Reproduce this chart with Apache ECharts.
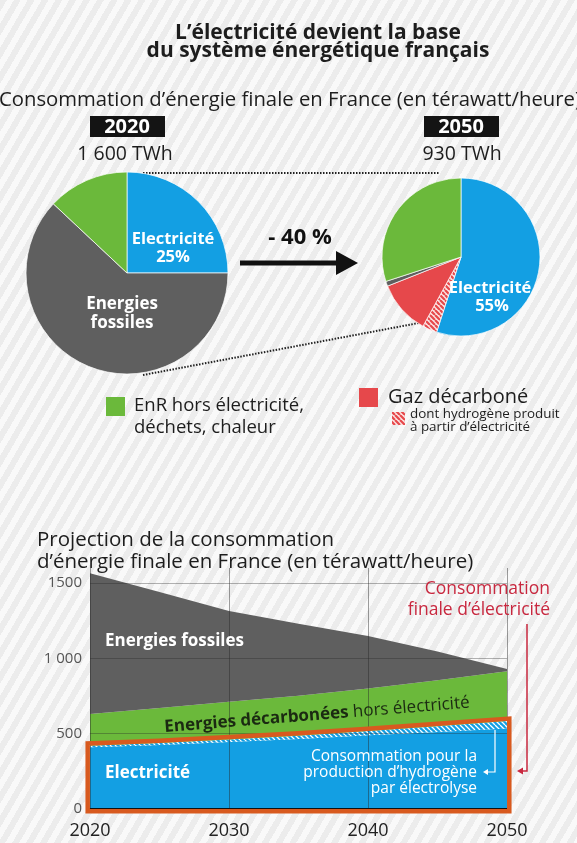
<!DOCTYPE html>
<html>
<head>
<meta charset="utf-8">
<script src="https://cdn.jsdelivr.net/npm/echarts@6/dist/echarts.min.js"></script>
<style>
  html, body { margin: 0; padding: 0; }
  body {
    width: 577px; height: 843px; overflow: hidden;
    background: repeating-linear-gradient(120deg, #ececec 0px, #ececec 6px, #f9f9f9 6px, #f9f9f9 12px);
  }
  #chart { width: 577px; height: 843px; }
</style>
</head>
<body>
<div id="chart"></div>
<script>
// ---------------- data ----------------
const pieCategories2020 = ['Electricité', 'Energies fossiles', 'EnR hors électricité, déchets, chaleur'];
const pie2020 = [25, 62, 13];
const pieCategories2050 = ['Electricité', 'Hydrogène produit à partir d\u2019électricité', 'Gaz décarboné', 'Energies fossiles', 'EnR hors électricité, déchets, chaleur'];
const pie2050 = [55, 3, 11, 1, 30];

const years = ['2020', '2025', '2030', '2035', '2040', '2045', '2050'];
const electricite = [410, 425, 445, 465, 490, 512, 535];
const hydrogene = [10, 13, 17, 22, 28, 38, 50];
const decarbonees = [210, 232, 250, 265, 282, 305, 330];
const fossiles = [935, 770, 603, 478, 348, 190, 15];

const xTickLabels = ['2020', '2030', '2040', '2050'];
const yTickValues = [0, 500, 1000, 1500];
const yTickLabels = ['0', '500', '1 000', '1500'];

// ---------------- styles ----------------
const FONT = '"Open Sans", "Noto Sans", sans-serif';
const C_BLUE = '#139fe3';
const C_GREEN = '#6bb93b';
const C_GRAY = '#5f5f5f';
const C_RED = '#e6484b';
const C_ORANGE = '#d85a1f';
const C_DARKRED = '#c8283f';

function stripes(bg, fg, size, width) {
  const c = document.createElement('canvas');
  c.width = size; c.height = size;
  const g = c.getContext('2d');
  g.fillStyle = bg; g.fillRect(0, 0, size, size);
  g.strokeStyle = fg; g.lineWidth = width;
  g.beginPath();
  for (let k = -1; k <= 1; k++) {
    g.moveTo(k * size, 0); g.lineTo(k * size + size, size);
  }
  g.stroke();
  return { image: c, repeat: 'repeat' };
}
const redHatch = stripes('#fbe3e3', '#e6484b', 5, 2.2);
const blueHatch = stripes(C_BLUE, '#ffffff', 5, 1.3);

// top of the electricity block (incl. hydrogen) for the orange outline
const elecTop = electricite.map((v, i) => v + hydrogene[i]);

function txt(text, x, y, font, fill, align, extra) {
  return Object.assign({
    type: 'text', x: x, y: y, z: 100, silent: true,
    style: { text: text, font: font, fill: fill, align: align || 'left', verticalAlign: 'middle', textAlign: align || 'left', textVerticalAlign: 'middle' }
  }, extra || {});
}

const graphics = [
  // titles
  txt('L\u2019électricité devient la base', 318, 33, 'bold 21px ' + FONT, '#1d1d1d', 'center'),
  txt('du système énergétique français', 318, 51, 'bold 21px ' + FONT, '#1d1d1d', 'center'),
  txt('Consommation d\u2019énergie finale en France (en térawatt/heure)', -1, 100, '20.3px ' + FONT, '#1d1d1d', 'left'),
  // year boxes
  { type: 'rect', shape: { x: 90, y: 116, width: 75, height: 21 }, style: { fill: '#141414' }, z: 90, silent: true },
  txt('2020', 127, 127, 'bold 20px ' + FONT, '#ffffff', 'center'),
  txt('1 600 TWh', 125, 154, '19.5px ' + FONT, '#1d1d1d', 'center'),
  { type: 'rect', shape: { x: 424, y: 116, width: 75, height: 21 }, style: { fill: '#141414' }, z: 90, silent: true },
  txt('2050', 461, 127, 'bold 20px ' + FONT, '#ffffff', 'center'),
  txt('930 TWh', 462, 154, '19.5px ' + FONT, '#1d1d1d', 'center'),
  // dotted connectors
  { type: 'line', shape: { x1: 143, y1: 173, x2: 440, y2: 173 }, style: { stroke: '#222', lineWidth: 2, lineDash: [1.5, 1.5] }, z: 1, silent: true },
  { type: 'line', shape: { x1: 143, y1: 375, x2: 440, y2: 319 }, style: { stroke: '#222', lineWidth: 2, lineDash: [1.5, 1.5] }, z: 1, silent: true },
  // big arrow
  { type: 'line', shape: { x1: 240, y1: 263, x2: 340, y2: 263 }, style: { stroke: '#111', lineWidth: 5 }, z: 90, silent: true },
  { type: 'polygon', shape: { points: [[336, 251], [358, 263], [336, 275]] }, style: { fill: '#111' }, z: 90, silent: true },
  txt('- 40 %', 300, 238, 'bold 22px ' + FONT, '#111', 'center'),
  // pie labels
  txt('Electricité', 173, 239, 'bold 16.5px ' + FONT, '#ffffff', 'center'),
  txt('25%', 173, 257, 'bold 16.5px ' + FONT, '#ffffff', 'center'),
  txt('Energies', 122, 304, 'bold 17px ' + FONT, '#ffffff', 'center'),
  txt('fossiles', 122, 323, 'bold 17px ' + FONT, '#ffffff', 'center'),
  txt('Electricité', 490, 288, 'bold 16.5px ' + FONT, '#ffffff', 'center'),
  txt('55%', 492, 306, 'bold 16.5px ' + FONT, '#ffffff', 'center'),
  // legend
  { type: 'rect', shape: { x: 106, y: 397, width: 19, height: 19 }, style: { fill: C_GREEN }, z: 90, silent: true },
  txt('EnR hors électricité,', 134, 406, '18.5px ' + FONT, '#1d1d1d', 'left'),
  txt('déchets, chaleur', 134, 428, '18.5px ' + FONT, '#1d1d1d', 'left'),
  { type: 'rect', shape: { x: 359, y: 388, width: 19, height: 19 }, style: { fill: C_RED }, z: 90, silent: true },
  txt('Gaz décarboné', 388, 397, '20px ' + FONT, '#1d1d1d', 'left'),
  { type: 'rect', shape: { x: 392, y: 412, width: 13, height: 13 }, style: { fill: redHatch }, z: 90, silent: true },
  txt('dont hydrogène produit', 410, 414, '13.4px ' + FONT, '#1d1d1d', 'left'),
  txt('à partir d\u2019électricité', 410, 427, '13.4px ' + FONT, '#1d1d1d', 'left'),
  // bottom title
  txt('Projection de la consommation', 37, 540, '20.5px ' + FONT, '#1d1d1d', 'left'),
  txt('d\u2019énergie finale en France (en térawatt/heure)', 37, 562, '20.5px ' + FONT, '#1d1d1d', 'left'),
  // in-chart labels
  txt('Energies fossiles', 105, 641, 'bold 17px ' + FONT, '#ffffff', 'left'),
  txt('Electricité', 105, 773, 'bold 17px ' + FONT, '#ffffff', 'left'),
  {
    type: 'text', x: 317, y: 715, z: 100, silent: true, rotation: 0.08,
    style: {
      text: '{b|Energies décarbonées} hors électricité',
      font: '17px ' + FONT, fill: '#1b2a12',
      align: 'center', verticalAlign: 'middle', textAlign: 'center', textVerticalAlign: 'middle',
      rich: { b: { fontWeight: 'bold', fontSize: 17, fontFamily: FONT, fill: '#1b2a12' } }
    }
  },
  txt('Consommation pour la', 477, 757, '15.5px ' + FONT, '#ffffff', 'right'),
  txt('production d\u2019hydrogène', 477, 773, '15.5px ' + FONT, '#ffffff', 'right'),
  txt('par électrolyse', 477, 789, '15.5px ' + FONT, '#ffffff', 'right'),
  { type: 'polyline', shape: { points: [[495, 730], [495, 772], [487, 772]] }, style: { stroke: '#ffffff', lineWidth: 1.2, fill: null }, z: 100, silent: true },
  { type: 'polygon', shape: { points: [[483, 772], [488, 769], [488, 775]] }, style: { fill: '#ffffff' }, z: 100, silent: true },
  // red annotation
  txt('Consommation', 550, 589, '17.5px ' + FONT, C_DARKRED, 'right'),
  txt('finale d\u2019électricité', 550, 610, '17.5px ' + FONT, C_DARKRED, 'right'),
  { type: 'polyline', shape: { points: [[527, 624], [527, 771], [521, 771]] }, style: { stroke: C_DARKRED, lineWidth: 1.5, fill: null }, z: 100, silent: true },
  { type: 'polygon', shape: { points: [[517, 771], [523, 767.5], [523, 774.5]] }, style: { fill: C_DARKRED }, z: 100, silent: true }
];

const areaSeries = (name, data, color) => ({
  name: name, type: 'line', stack: 'conso', data: data,
  symbol: 'none', showSymbol: false, smooth: false,
  lineStyle: { width: 0 }, areaStyle: { color: color, opacity: 1 }, z: 2, silent: true
});

const option = {
  backgroundColor: 'transparent',
  animation: false,
  textStyle: { fontFamily: FONT },
  grid: { left: 90, right: 70, top: 568, bottom: 34, containLabel: false },
  xAxis: {
    type: 'category', data: years, boundaryGap: false, z: 5,
    axisLine: { show: true, lineStyle: { color: '#111', width: 2 } },
    axisTick: { show: false },
    axisLabel: {
      interval: 1, fontSize: 18, color: '#222', margin: 13, fontFamily: FONT,
      formatter: v => (xTickLabels.indexOf(v) >= 0 ? v : '')
    },
    splitLine: { show: true, interval: 1, lineStyle: { color: 'rgba(40,40,40,0.45)', width: 1 } }
  },
  yAxis: {
    type: 'value', min: 0, max: 1600, interval: 500, z: 5,
    axisLine: { show: false }, axisTick: { show: false },
    axisLabel: {
      fontSize: 15, color: '#555', margin: 8, fontFamily: FONT, showMaxLabel: false,
      formatter: v => { const i = yTickValues.indexOf(v); return i >= 0 ? yTickLabels[i] : ''; }
    },
    splitLine: { show: true, showMinLine: false, showMaxLine: false, lineStyle: { color: 'rgba(40,40,40,0.35)', width: 1 } }
  },
  graphic: graphics,
  series: [
    {
      type: 'pie', center: [127, 273], radius: [0, 101], startAngle: 90, clockwise: true,
      label: { show: false }, labelLine: { show: false }, silent: true, z: 3,
      itemStyle: { borderColor: 'rgba(255,255,255,0.7)', borderWidth: 1 },
      data: pie2020.map((v, i) => ({ name: pieCategories2020[i], value: v, itemStyle: { color: [C_BLUE, C_GRAY, C_GREEN][i] } }))
    },
    {
      type: 'pie', center: [461, 257], radius: [0, 79], startAngle: 90, clockwise: true,
      label: { show: false }, labelLine: { show: false }, silent: true, z: 3,
      itemStyle: { borderColor: 'rgba(255,255,255,0.7)', borderWidth: 1 },
      data: pie2050.map((v, i) => ({ name: pieCategories2050[i], value: v, itemStyle: { color: [C_BLUE, redHatch, C_RED, C_GRAY, C_GREEN][i] } }))
    },
    areaSeries('Electricité', electricite, C_BLUE),
    areaSeries('Hydrogène', hydrogene, blueHatch),
    areaSeries('Energies décarbonées hors électricité', decarbonees, C_GREEN),
    areaSeries('Energies fossiles', fossiles, C_GRAY),
    {
      name: 'Consommation finale d\u2019électricité', type: 'custom', silent: true, z: 10, clip: false,
      data: [[0, 0]],
      renderItem: function (params, api) {
        const o = 2.3;
        const n = elecTop.length;
        const tops = elecTop.map((v, i) => api.coord([i, v]));
        const b0 = api.coord([0, 0]);
        const bN = api.coord([n - 1, 0]);
        const pts = [[b0[0] - o, b0[1] + o]]
          .concat(tops.map((p, i) => [p[0] + (i === 0 ? -o : (i === n - 1 ? o : 0)), p[1] - o]))
          .concat([[bN[0] + o, bN[1] + o]]);
        return {
          type: 'polygon', shape: { points: pts },
          style: { fill: 'none', stroke: C_ORANGE, lineWidth: 4.5, lineJoin: 'miter' }
        };
      }
    }
  ]
};

const chart = echarts.init(document.getElementById('chart'), null, { renderer: 'canvas' });
chart.setOption(option);
</script>
</body>
</html>
